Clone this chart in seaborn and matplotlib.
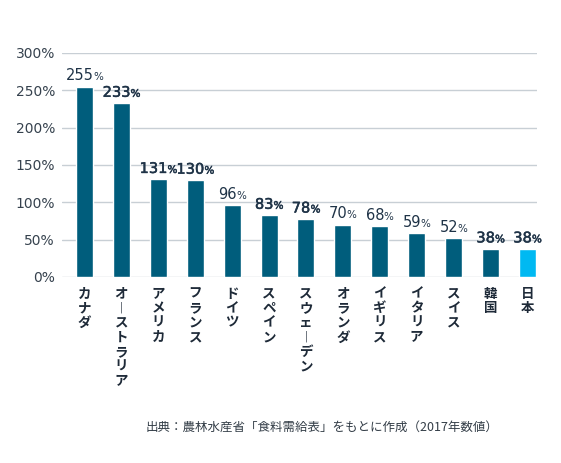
import matplotlib
matplotlib.use("Agg")
import matplotlib.pyplot as plt
import matplotlib.patheffects as pe
import seaborn as sns

# 食料自給率（カロリーベース, 2017年）
countries = ["カナダ", "オーストラリア", "アメリカ", "フランス", "ドイツ", "スペイン",
             "スウェーデン", "オランダ", "イギリス", "イタリア", "スイス", "韓国", "日本"]
values = [255, 233, 131, 130, 96, 83, 78, 70, 68, 59, 52, 38, 38]
label_bold = [False, True, True, True, False, True, True,
              False, False, False, False, True, True]
yticks = [0, 50, 100, 150, 200, 250, 300]
source = "出典：農林水産省「食料需給表」をもとに作成（2017年数値）"

bar_color = "#005d7c"
japan_color = "#00b9f2"
text_color = "#1f3347"
tick_color = "#36424e"

sns.set_style("white")
plt.rcParams["font.family"] = ["DejaVu Sans", "Noto Sans CJK JP"]

fig = plt.figure(figsize=(5.61, 4.63), dpi=100)
ax = fig.add_axes([62 / 561, 1 - 277 / 463, 475 / 561, 224 / 463])

palette = [japan_color if c == "日本" else bar_color for c in countries]
sns.barplot(x=countries, y=values, hue=countries, palette=palette, legend=False,
            width=0.46, saturation=1, ax=ax)

ax.set_ylim(0, 300)
ax.set_xlim(-0.61, len(countries) - 0.74)
ax.set_yticks(yticks, labels=[f"{t}%" for t in yticks])
ax.yaxis.grid(True, color="#c8cfd5", lw=1)
ax.set_axisbelow(True)
for s in ax.spines.values():
    s.set_visible(False)
ax.tick_params(axis="y", length=0, pad=5, labelsize=10, labelcolor=tick_color)

# 縦書きのラベル（長音は縦向きの線に置き換え）
vertical = ["\n".join(c.replace("ー", "︱")) for c in countries]
ax.set_xticks(range(len(countries)), labels=vertical, family="Noto Sans CJK JP",
              fontweight="bold", linespacing=1.05)
ax.tick_params(axis="x", length=0, pad=7, labelsize=9.7, labelcolor="#1e2a38")
ax.set_xlabel("")

# 値ラベル（数字 + 小さい%）
labels = []
for i, v in enumerate(values):
    effects = [pe.withStroke(linewidth=0.35, foreground=text_color)] if label_bold[i] else []
    num = ax.annotate(str(v), (i, v), xytext=(0, 4.5), textcoords="offset points",
                      ha="right", va="baseline", fontsize=10.5, color=text_color,
                      path_effects=effects)
    pct = ax.annotate("%", (i, v), xytext=(0, 4.5), textcoords="offset points",
                      ha="left", va="baseline", fontsize=7.5, color=text_color,
                      path_effects=effects)
    labels.append((num, pct, label_bold[i]))

fig.canvas.draw()
renderer = fig.canvas.get_renderer()
for num, pct, bold in labels:
    w1 = num.get_window_extent(renderer).width
    w2 = pct.get_window_extent(renderer).width
    shift = (w1 - w2) / 2 * 72 / fig.dpi
    num.xyann = (shift, 4.5)
    pct.xyann = (shift + (0.2 if bold else -0.4), 4.5)

fig.text(322 / 561, 1 - 427 / 463, source, ha="center", va="center",
         family="Noto Sans CJK JP", fontsize=9, color="#333d47")

fig.savefig("out.png", dpi=100)
